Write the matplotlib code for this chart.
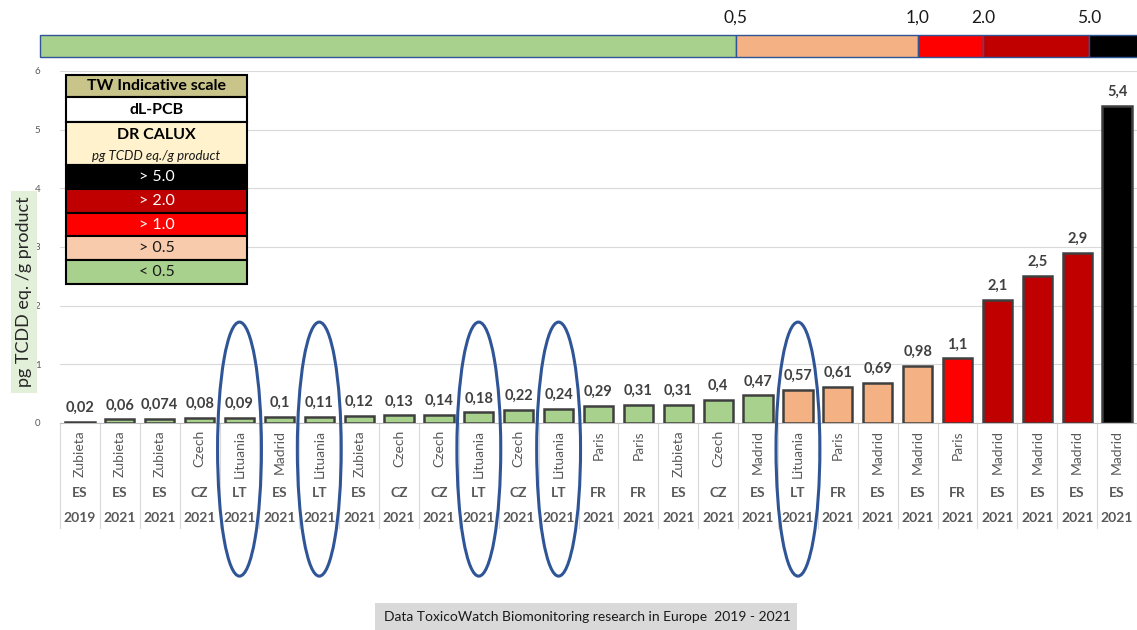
"""TW indicative scale - dL-PCB DR CALUX in eggs, ToxicoWatch 2019-2021."""
import matplotlib
matplotlib.use("Agg")
import matplotlib.pyplot as plt
from matplotlib.patches import Ellipse, Rectangle
from matplotlib.transforms import blended_transform_factory

plt.rcParams["font.family"] = ["Lato", "DejaVu Sans"]

# --- data -----------------------------------------------------------------
VALUES = [0.02, 0.06, 0.074, 0.08, 0.09, 0.1, 0.11, 0.12, 0.13, 0.14, 0.18,
          0.22, 0.24, 0.29, 0.31, 0.31, 0.4, 0.47, 0.57, 0.61, 0.69, 0.98,
          1.1, 2.1, 2.5, 2.9, 5.4]
VALUE_LABELS = ["0,02", "0,06", "0,074", "0,08", "0,09", "0,1", "0,11", "0,12",
                "0,13", "0,14", "0,18", "0,22", "0,24", "0,29", "0,31", "0,31",
                "0,4", "0,47", "0,57", "0,61", "0,69", "0,98", "1,1", "2,1",
                "2,5", "2,9", "5,4"]
CITIES = ["Zubieta", "Zubieta", "Zubieta", "Czech", "Lituania", "Madrid",
          "Lituania", "Zubieta", "Czech", "Czech", "Lituania", "Czech",
          "Lituania", "Paris", "Paris", "Zubieta", "Czech", "Madrid",
          "Lituania", "Paris", "Madrid", "Madrid", "Paris", "Madrid",
          "Madrid", "Madrid", "Madrid"]
COUNTRIES = ["ES", "ES", "ES", "CZ", "LT", "ES", "LT", "ES", "CZ", "CZ", "LT",
             "CZ", "LT", "FR", "FR", "ES", "CZ", "ES", "LT", "FR", "ES", "ES",
             "FR", "ES", "ES", "ES", "ES"]
YEARS = ["2019"] + ["2021"] * 26

# indicative scale thresholds (pg TCDD eq./g product)
THRESHOLDS = [0.5, 1.0, 2.0, 5.0]
SCALE_LABELS = ["0,5", "1,0", "2.0", "5.0"]
SCALE_COLORS = ["#a9d18e", "#f4b183", "#ff0000", "#c00000", "#000000"]
LEGEND_ROWS = ["> 5.0", "> 2.0", "> 1.0", "> 0.5", "< 0.5"]
LEGEND_FILLS = ["#000000", "#c00000", "#ff0000", "#f8cbad", "#a9d18e"]


def scale_color(v):
    for t, c in zip(THRESHOLDS, SCALE_COLORS):
        if v < t:
            return c
    return SCALE_COLORS[-1]


W, H = 1137, 630


def fx(px):
    return px / W


def fy(py):
    return 1 - py / H


fig = plt.figure(figsize=(11.37, 6.3), dpi=100)
ax = fig.add_axes([fx(60), fy(423), fx(1137 - 60), (423 - 71) / H])

x = list(range(len(VALUES)))
colors = [scale_color(v) for v in VALUES]
ax.bar(x, VALUES, width=0.73, color=colors, edgecolor="#3f3f3f",
       linewidth=1.8, zorder=3)
for xi, v, lab in zip(x, VALUES, VALUE_LABELS):
    ax.text(xi, v + 0.12, lab, ha="center", va="bottom", fontsize=10.5,
            fontweight="bold", color="#404040")

ax.set_xlim(-0.5, len(VALUES) - 0.5)
ax.set_ylim(0, 6)
ax.set_yticks(range(7))
ax.tick_params(axis="y", labelsize=7, colors="#595959", length=0, pad=14)
ax.set_xticks([])
ax.grid(axis="y", color="#d9d9d9", linewidth=0.8, zorder=0)
for s in ["top", "right", "left"]:
    ax.spines[s].set_visible(False)
ax.spines["bottom"].set_color("#bfbfbf")

# multi-level category labels under the axis
tr = blended_transform_factory(ax.transData, ax.transAxes)
for xi, (c, ctry, yr) in enumerate(zip(CITIES, COUNTRIES, YEARS)):
    ax.text(xi, -0.02, c, rotation=90, ha="center", va="top", fontsize=10,
            color="#595959", transform=tr, clip_on=False)
    ax.text(xi, -0.199, ctry, ha="center", va="center", fontsize=10,
            fontweight="bold", color="#595959", transform=tr)
    ax.text(xi, -0.27, yr, ha="center", va="center", fontsize=10,
            fontweight="bold", color="#595959", transform=tr)
for xb in [i - 0.5 for i in range(len(VALUES) + 1)]:
    ax.plot([xb, xb], [0, -0.298], color="#d9d9d9", linewidth=0.8,
            transform=tr, clip_on=False)

# ellipses around Lithuanian samples
for xi, c in enumerate(CITIES):
    if c == "Lituania":
        ax.add_patch(Ellipse((xi, -0.445), 1.1, 4.33, fill=False,
                             edgecolor="#2f5597", linewidth=2.2,
                             clip_on=False, zorder=5))

# y-axis label in a light green box
fig.text(fx(24), fy(292), "pg TCDD eq. /g product", rotation=90,
         ha="center", va="center", fontsize=13, color="#262626",
         bbox=dict(boxstyle="square,pad=0.3", fc="#e2efd9", ec="none"))

# top indicative colour scale
bounds_px = [40, 736, 918, 983, 1089, 1140]
for i, c in enumerate(SCALE_COLORS):
    fig.patches.append(Rectangle((fx(bounds_px[i]), fy(57)),
                                 fx(bounds_px[i + 1] - bounds_px[i]), 22 / H,
                                 transform=fig.transFigure, facecolor=c,
                                 edgecolor="#2f5597", linewidth=1.0))
for px, lab in zip(bounds_px[1:5], SCALE_LABELS):
    fig.text(fx(px), fy(18), lab, ha="center", va="center", fontsize=12.5,
             color="#1a1a1a")

# legend table
lx0, lx1 = 66, 247
rows = [(75, 97, "#c9c48a", "TW Indicative scale", "k", "bold"),
        (97, 122, "white", "dL-PCB", "k", "bold"),
        (122, 165, "#fff2cc", None, "k", "bold")]
row_y = [165, 189, 213, 236, 260, 284]
for i, lab in enumerate(LEGEND_ROWS):
    txtc = "white" if i < 3 else "#1a1a1a"
    rows.append((row_y[i], row_y[i + 1], LEGEND_FILLS[i], lab, txtc, "normal"))
for y0, y1, fc, lab, tc, fw in rows:
    fig.patches.append(Rectangle((fx(lx0), fy(y1)), fx(lx1 - lx0),
                                 (y1 - y0) / H, transform=fig.transFigure,
                                 facecolor=fc, edgecolor="black",
                                 linewidth=1.5, zorder=10))
    if lab:
        fig.text(fx((lx0 + lx1) / 2), fy((y0 + y1) / 2), lab, ha="center",
                 va="center", fontsize=11.5, fontweight=fw, color=tc,
                 zorder=11)
fig.text(fx((lx0 + lx1) / 2), fy(135), "DR CALUX", ha="center", va="center",
         fontsize=11.5, fontweight="bold", color="k", zorder=11)
fig.text(fx((lx0 + lx1) / 2), fy(156), "pg TCDD eq./g product", ha="center",
         va="center", fontsize=9.5, style="italic", color="#1a1a1a", zorder=11)

# footer
fig.patches.append(Rectangle((fx(375), fy(630)), fx(797 - 375), 27 / H,
                             transform=fig.transFigure, facecolor="#d9d9d9",
                             edgecolor="none"))
fig.text(fx(384), fy(617), "Data ToxicoWatch Biomonitoring research in Europe  2019 - 2021",
         ha="left", va="center", fontsize=10, color="#1a1a1a")

fig.savefig("out.png", dpi=100)
